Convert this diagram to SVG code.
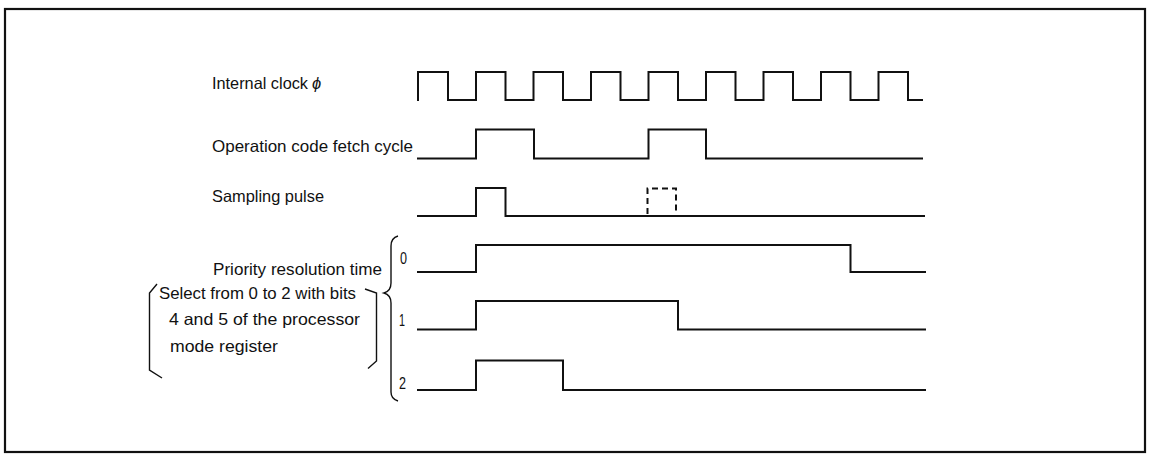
<svg xmlns="http://www.w3.org/2000/svg" width="1150" height="459" viewBox="0 0 1150 459">
<style>
.w{fill:none;stroke:#111;stroke-width:2;stroke-linejoin:miter;stroke-linecap:square}
.d{fill:none;stroke:#111;stroke-width:2;stroke-dasharray:6 4}
.b{fill:none;stroke:#111;stroke-width:1.4}
.t{font-family:"Liberation Sans",Arial,sans-serif;font-size:16.5px;fill:#111}
.n{font-family:"Liberation Sans",Arial,sans-serif;font-size:16px;fill:#111}
</style>
<rect x="5" y="9" width="1140" height="443" fill="#fff" stroke="#111" stroke-width="2.2"/>
<g id="clock">
<text class="t" x="212" y="89" textLength="96" lengthAdjust="spacingAndGlyphs">Internal clock</text>
<text class="t" x="312" y="89" font-style="italic">ϕ</text>
<path class="w" d="M418 100V72H448V100H476V72H505.5V100H533.5V72H563V100H591V72H620.5V100H648.5V72H678V100H706V72H735.5V100H763.5V72H793V100H821V72H850.5V100H878.5V72H908V100H922"/>
</g>
<g id="opcode">
<text class="t" x="212" y="152" textLength="201" lengthAdjust="spacingAndGlyphs">Operation code fetch cycle</text>
<path class="w" d="M418 158.5H476V129.5H534V158.5H648.5V129.5H706V158.5H922"/>
</g>
<g id="sampling">
<text class="t" x="212" y="202" textLength="112" lengthAdjust="spacingAndGlyphs">Sampling pulse</text>
<path class="w" d="M418 216H476V188H505.5V216H924"/>
<path class="d" d="M647.5 214V188.5H676V214"/>
</g>
<g id="priority">
<text class="t" x="213" y="275" textLength="169" lengthAdjust="spacingAndGlyphs">Priority resolution time</text>
<text class="n" x="400" y="264" textLength="7" lengthAdjust="spacingAndGlyphs">0</text>
<path class="w" d="M418 272H476V245H850.5V272H925"/>
<text class="n" x="399" y="326" textLength="6" lengthAdjust="spacingAndGlyphs">1</text>
<path class="w" d="M418 329.5H476V301H678V329.5H925"/>
<text class="n" x="399" y="389" textLength="7" lengthAdjust="spacingAndGlyphs">2</text>
<path class="w" d="M418 390H476V360.5H563V390H925"/>
<path class="b" d="M398 236Q391 238 391 246V283Q391 291 384 293Q391 295 391 303V392Q391 399 398 401"/>
</g>
<g id="select">
<text class="t" x="159" y="299" textLength="197" lengthAdjust="spacingAndGlyphs">Select from 0 to 2 with bits</text>
<text class="t" x="169" y="325" textLength="191" lengthAdjust="spacingAndGlyphs">4 and 5 of the processor</text>
<text class="t" x="170" y="352" textLength="108" lengthAdjust="spacingAndGlyphs">mode register</text>
<path class="b" d="M157 284L149.5 293V370L162 378"/>
<path class="b" d="M365 289L376.5 293V361L368 368.5"/>
</g>
<g id="connectors"></g>
</svg>
